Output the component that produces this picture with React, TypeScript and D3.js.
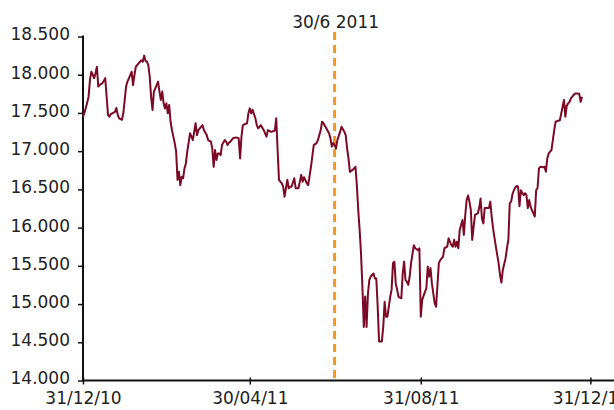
import React, { useEffect, useRef } from 'react';
import * as d3 from 'd3';

// daily index level (dd/mm/yy)
const dates = [
  '31/12/10',
  '01/01/11', '02/01/11', '04/01/11', '05/01/11', '06/01/11', '07/01/11', '08/01/11', '09/01/11', '10/01/11', '11/01/11', '12/01/11', '14/01/11', '16/01/11', '17/01/11', '18/01/11', '19/01/11', '20/01/11', '22/01/11', '23/01/11', '24/01/11', '25/01/11', '26/01/11', '28/01/11', '29/01/11', '30/01/11', '31/01/11',
  '01/02/11', '03/02/11', '04/02/11', '05/02/11', '06/02/11', '07/02/11', '09/02/11', '10/02/11', '11/02/11', '12/02/11', '13/02/11', '14/02/11', '15/02/11', '16/02/11', '17/02/11', '18/02/11', '19/02/11', '20/02/11', '22/02/11', '23/02/11', '24/02/11', '25/02/11', '26/02/11', '27/02/11', '28/02/11',
  '01/03/11', '02/03/11', '03/03/11', '04/03/11', '05/03/11', '07/03/11', '08/03/11', '09/03/11', '10/03/11', '11/03/11', '12/03/11', '13/03/11', '14/03/11', '15/03/11', '16/03/11', '18/03/11', '19/03/11', '20/03/11', '22/03/11', '23/03/11', '24/03/11', '26/03/11', '27/03/11', '28/03/11', '30/03/11', '31/03/11',
  '02/04/11', '03/04/11', '04/04/11', '05/04/11', '06/04/11', '07/04/11', '08/04/11', '09/04/11', '10/04/11', '12/04/11', '13/04/11', '14/04/11', '15/04/11', '16/04/11', '18/04/11', '20/04/11', '22/04/11', '23/04/11', '24/04/11', '25/04/11', '28/04/11', '29/04/11', '30/04/11',
  '01/05/11', '02/05/11', '04/05/11', '05/05/11', '06/05/11', '07/05/11', '08/05/11', '10/05/11', '12/05/11', '13/05/11', '15/05/11', '16/05/11', '18/05/11', '19/05/11', '20/05/11', '21/05/11', '23/05/11', '24/05/11', '25/05/11', '27/05/11', '28/05/11', '29/05/11', '30/05/11',
  '01/06/11', '02/06/11', '04/06/11', '06/06/11', '07/06/11', '08/06/11', '10/06/11', '11/06/11', '13/06/11', '15/06/11', '17/06/11', '18/06/11', '20/06/11', '21/06/11', '22/06/11', '24/06/11', '26/06/11', '27/06/11', '28/06/11', '29/06/11', '30/06/11',
  '01/07/11', '02/07/11', '04/07/11', '05/07/11', '07/07/11', '08/07/11', '09/07/11', '10/07/11', '11/07/11', '13/07/11', '14/07/11', '15/07/11', '16/07/11', '17/07/11', '18/07/11', '19/07/11', '20/07/11', '21/07/11', '22/07/11', '23/07/11', '24/07/11', '25/07/11', '26/07/11', '28/07/11', '29/07/11', '30/07/11', '31/07/11',
  '01/08/11', '02/08/11', '03/08/11', '04/08/11', '05/08/11', '06/08/11', '07/08/11', '08/08/11', '09/08/11', '10/08/11', '11/08/11', '12/08/11', '13/08/11', '14/08/11', '15/08/11', '17/08/11', '18/08/11', '19/08/11', '20/08/11', '21/08/11', '22/08/11', '23/08/11', '24/08/11', '26/08/11', '27/08/11', '29/08/11', '30/08/11', '31/08/11',
  '01/09/11', '03/09/11', '04/09/11', '05/09/11', '06/09/11', '07/09/11', '08/09/11', '09/09/11', '10/09/11', '11/09/11', '13/09/11', '14/09/11', '16/09/11', '17/09/11', '19/09/11', '20/09/11', '21/09/11', '22/09/11', '23/09/11', '24/09/11', '25/09/11', '26/09/11', '27/09/11', '28/09/11', '29/09/11', '30/09/11',
  '01/10/11', '02/10/11', '03/10/11', '04/10/11', '05/10/11', '06/10/11', '07/10/11', '08/10/11', '09/10/11', '11/10/11', '12/10/11', '13/10/11', '14/10/11', '15/10/11', '16/10/11', '19/10/11', '20/10/11', '21/10/11', '22/10/11', '24/10/11', '26/10/11', '27/10/11', '28/10/11', '29/10/11', '31/10/11',
  '01/11/11', '02/11/11', '03/11/11', '04/11/11', '05/11/11', '06/11/11', '07/11/11', '08/11/11', '09/11/11', '10/11/11', '11/11/11', '12/11/11', '13/11/11', '14/11/11', '15/11/11', '16/11/11', '17/11/11', '18/11/11', '19/11/11', '21/11/11', '22/11/11', '23/11/11', '24/11/11', '25/11/11', '27/11/11', '28/11/11', '29/11/11', '30/11/11',
  '01/12/11', '03/12/11', '04/12/11', '05/12/11', '06/12/11', '08/12/11', '09/12/11', '11/12/11', '12/12/11', '13/12/11', '14/12/11', '15/12/11', '16/12/11', '17/12/11', '19/12/11', '20/12/11', '21/12/11', '23/12/11', '24/12/11', '25/12/11',
];

const values = [
  17450,
  17500, 17565, 17710, 17930, 18040, 18000, 17955, 18020, 18105, 17845, 17865, 17890, 17955, 17710, 17475, 17450, 17485, 17505, 17515, 17565, 17475, 17430, 17410, 17495, 17670, 17845,
  17910, 17995, 18040, 17865, 17995, 18105, 18150, 18170, 18190, 18170, 18250, 18180, 18170, 18125, 17975, 17710, 17540, 17780, 17865, 17910, 17780, 17670, 17780, 17625, 17560,
  17625, 17495, 17605, 17385, 17275, 17105, 16995, 16625, 16730, 16555, 16665, 16645, 16775, 16840, 16995, 17235, 17190, 17145, 17365, 17210, 17275, 17320, 17340, 17275, 17210, 17145,
  17125, 17035, 16795, 17015, 16885, 16970, 16970, 16950, 17080, 17145, 17125, 17080, 17110, 17125, 17170, 17180, 17170, 16905, 17190, 17340, 17365, 17495, 17560,
  17495, 17540, 17430, 17340, 17300, 17320, 17340, 17275, 17190, 17275, 17255, 17255, 17270, 17430, 17015, 16625, 16580, 16535, 16405, 16625, 16515, 16535, 16535,
  16645, 16515, 16515, 16690, 16600, 16660, 16580, 16555, 16795, 17080, 17105, 17145, 17275, 17385, 17365, 17300, 17235, 17170, 17060, 17105, 17080,
  17035, 17145, 17255, 17320, 17255, 17210, 17035, 16905, 16730, 16755, 16775, 16795, 16555, 16230, 15970, 15665, 15225, 14700, 15100, 14700, 15140, 15315, 15360, 15400, 15335, 15335, 14965,
  14510, 14510, 14510, 14705, 15030, 14835, 14835, 14965, 15095, 15185, 15535, 15555, 15270, 15185, 15095, 15075, 15400, 15555, 15315, 15290, 15250, 15360, 15535, 15770, 15730, 15705, 15730, 14835,
  15055, 15160, 15205, 15490, 15360, 15470, 15270, 15140, 15010, 14965, 15535, 15575, 15620, 15730, 15750, 15860, 15815, 15770, 15750, 15840, 15750, 15815, 15730, 15970, 16035, 16100,
  15905, 16165, 16360, 16420, 16340, 16230, 15840, 16010, 16165, 16185, 16255, 16380, 16120, 16055, 16255, 16255, 16340, 16145, 15990, 15750, 15535, 15380, 15280, 15445, 15600,
  15730, 15840, 16320, 16340, 16440, 16490, 16525, 16545, 16535, 16280, 16490, 16450, 16425, 16450, 16425, 16255, 16360, 16275, 16230, 16145, 16490, 16515, 16775, 16795, 16790, 16795, 16730, 16905,
  16970, 17015, 17145, 17275, 17385, 17400, 17400, 17580, 17670, 17450, 17595, 17625, 17645, 17690, 17735, 17755, 17755, 17750, 17645, 17710,
];

const xTickLabels = ['31/12/10', '30/04/11', '31/08/11', '31/12/11'];
const yTickValues = [14000, 14500, 15000, 15500, 16000, 16500, 17000, 17500, 18000, 18500];
const xDomain = ['31/12/10', '17/01/12'];
const eventDate = '30/06/11';
const eventLabel = '30/6 2011';

const parse = d3.timeParse('%d/%m/%y');
const locale = d3.formatLocale({ decimal: ',', thousands: '.', grouping: [3], currency: ['', '€'] });
const fmt = locale.format(',d');

export default function App() {
  const svgRef = useRef<SVGSVGElement>(null);

  useEffect(() => {
    if (!svgRef.current) return;
    const svg = d3.select(svgRef.current);
    svg.selectAll('*').remove();

    const left = 83;
    const top = 36.5;
    const bottom = 380.5;

    const x = d3.scaleTime()
      .domain(xDomain.map(d => parse(d)!))
      .range([left, 614]);

    const y = d3.scaleLinear()
      .domain([14000, 18500])
      .range([bottom, top]);

    const data = dates.map((d, i) => ({ date: parse(d)!, value: values[i] }));

    // y axis
    const yAxis = svg.append('g')
      .attr('transform', `translate(${left},0)`)
      .call(d3.axisLeft(y).tickValues(yTickValues).tickSize(5).tickPadding(8).tickFormat(d => fmt(d as number)));
    yAxis.select('.domain').remove();
    yAxis.append('line')
      .attr('x1', 0).attr('x2', 0)
      .attr('y1', top - 1).attr('y2', bottom)
      .attr('stroke', '#111').attr('stroke-width', 2);
    yAxis.selectAll('.tick line').attr('stroke', '#111').attr('stroke-width', 1.5);
    yAxis.selectAll('.tick text')
      .attr('fill', '#222')
      .attr('dy', '0.2em')
      .style('font-family', 'DejaVu Sans')
      .style('font-size', '17px');

    // x axis
    const xAxis = svg.append('g')
      .attr('transform', `translate(0,${bottom})`)
      .call(d3.axisBottom(x)
        .tickValues(xTickLabels.map(d => parse(d)!))
        .tickSize(4)
        .tickPadding(7)
        .tickFormat(d3.timeFormat('%d/%m/%y') as any));
    xAxis.select('.domain').remove();
    xAxis.append('line')
      .attr('x1', left - 1).attr('x2', 614)
      .attr('y1', 0).attr('y2', 0)
      .attr('stroke', '#111').attr('stroke-width', 2);
    xAxis.selectAll('.tick line')
      .attr('y1', -3)
      .attr('stroke', '#111').attr('stroke-width', 1.5);
    xAxis.selectAll('.tick text')
      .attr('fill', '#222')
      .style('font-family', 'DejaVu Sans')
      .style('font-size', '17px');

    // event marker
    const ex = x(parse(eventDate)!);
    svg.append('line')
      .attr('x1', ex).attr('x2', ex)
      .attr('y1', 32).attr('y2', bottom - 1)
      .attr('stroke', '#EE9A25')
      .attr('stroke-width', 3)
      .attr('stroke-dasharray', '8,5');
    svg.append('text')
      .attr('x', ex + 1)
      .attr('y', 28)
      .attr('text-anchor', 'middle')
      .attr('fill', '#222')
      .style('font-family', 'DejaVu Sans')
      .style('font-size', '17px')
      .text(eventLabel);

    // series
    const line = d3.line<{ date: Date; value: number }>()
      .x(d => x(d.date))
      .y(d => y(d.value));
    svg.append('path')
      .datum(data)
      .attr('d', line)
      .attr('fill', 'none')
      .attr('stroke', '#7A0A25')
      .attr('stroke-width', 2)
      .attr('stroke-linejoin', 'round');
  }, []);

  return (
    <svg
      ref={svgRef}
      width={614}
      height={410}
      style={{ position: 'absolute', left: 0, top: 0, background: '#fff' }}
    />
  );
}
